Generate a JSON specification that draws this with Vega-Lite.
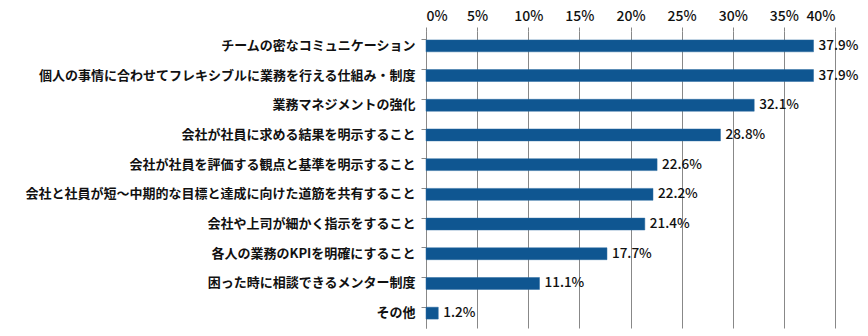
{
  "$schema": "https://vega.github.io/schema/vega-lite/v6.json",
  "autosize": "none",
  "width": 409,
  "height": 297,
  "padding": {"left": 426, "top": 31, "right": 33, "bottom": 8},
  "background": "white",
  "config": {"view": {"stroke": null}, "font": "Noto Sans CJK JP"},
  "data": {"values": [
    {"item": "チームの密なコミュニケーション", "value": 0.379, "label": "37.9%"},
    {"item": "個人の事情に合わせてフレキシブルに業務を行える仕組み・制度", "value": 0.379, "label": "37.9%"},
    {"item": "業務マネジメントの強化", "value": 0.321, "label": "32.1%"},
    {"item": "会社が社員に求める結果を明示すること", "value": 0.288, "label": "28.8%"},
    {"item": "会社が社員を評価する観点と基準を明示すること", "value": 0.226, "label": "22.6%"},
    {"item": "会社と社員が短～中期的な目標と達成に向けた道筋を共有すること", "value": 0.222, "label": "22.2%"},
    {"item": "会社や上司が細かく指示をすること", "value": 0.214, "label": "21.4%"},
    {"item": "各人の業務のKPIを明確にすること", "value": 0.177, "label": "17.7%"},
    {"item": "困った時に相談できるメンター制度", "value": 0.111, "label": "11.1%"},
    {"item": "その他", "value": 0.012, "label": "1.2%"}
  ]},
  "encoding": {
    "y": {"field": "item", "type": "nominal", "sort": null,
      "scale": {"paddingInner": 0.6, "paddingOuter": 0.3},
      "axis": {"title": null, "labelFontSize": 13, "labelFontWeight": "bold", "labelColor": "#111",
        "labelPadding": 6, "tickSize": 5, "bandPosition": 0, "domainColor": "#888", "tickColor": "#888", "labelLimit": 430}},
    "x": {"field": "value", "type": "quantitative",
      "scale": {"domain": [0, 0.4], "nice": false},
      "axis": {"orient": "top", "title": null, "format": ".0%", "values": [0, 0.05, 0.1, 0.15, 0.2, 0.25, 0.3, 0.35, 0.4],
        "labelFontSize": 14, "labelFontWeight": 500, "labelColor": "#111", "domain": false,
        "grid": true, "gridColor": "#888", "tickColor": "#888", "tickSize": 4, "labelPadding": 4}}
  },
  "layer": [
    {"mark": {"type": "bar", "color": "#0f5691", "stroke": "#2b6aa0", "strokeWidth": 0.5}},
    {"mark": {"type": "text", "align": "left", "dx": 5, "fontSize": 13.5, "fontWeight": 500, "color": "#111"},
      "encoding": {"text": {"field": "label"}}}
  ]
}
